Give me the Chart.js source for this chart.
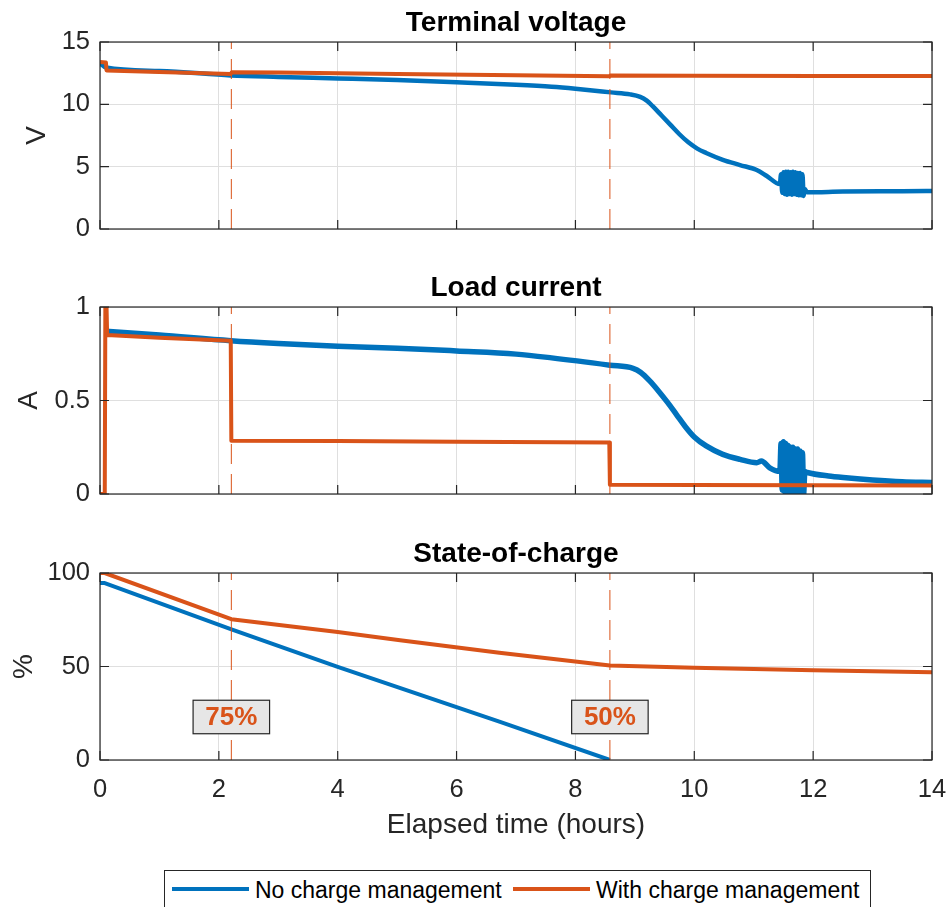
<!DOCTYPE html>
<html><head><meta charset="utf-8">
<script src="https://cdn.jsdelivr.net/npm/chart.js@4"></script>
<style>
html,body{margin:0;padding:0;background:#fff;width:948px;height:907px;overflow:hidden;position:relative;}
canvas{position:absolute;left:0;}
#legend{position:absolute;left:164px;top:870px;width:707px;height:50px;border:1px solid #262626;background:#fff;box-sizing:border-box;font-family:"Liberation Sans",Arial,sans-serif;font-size:23px;color:#000;}
.item{position:absolute;top:5px;white-space:nowrap;line-height:28px;}
.swatch{position:absolute;height:4px;top:16px;width:77px;}
</style></head><body>
<canvas id="c1" width="948" height="266" style="top:0px"></canvas>
<canvas id="c2" width="948" height="266" style="top:265px"></canvas>
<canvas id="c3" width="948" height="320" style="top:531px"></canvas>
<div id="legend">
  <div class="swatch" style="left:7px;background:#0072BD"></div>
  <div class="item" style="left:90px">No charge management</div>
  <div class="swatch" style="left:348px;background:#D95319"></div>
  <div class="item" style="left:431px">With charge management</div>
</div>
<script>
// ---------- data ----------
const seriesNames = ['No charge management', 'With charge management'];
const eventTimes = [2.21, 8.58];
const eventLabels = ['75%', '50%'];
const eventLabelY = [23, 23];

// Terminal voltage (V)
const vNoT = [0, 0.1, 1, 2.2, 3, 4, 5, 6, 7, 7.6, 8, 8.6, 8.92, 9.09, 9.2, 9.3, 9.45, 9.6, 9.75, 9.9, 10.05, 10.2, 10.48, 10.77, 11.05, 11.22, 11.44,
  11.46, 11.48, 11.50, 11.52, 11.54, 11.56, 11.58, 11.60, 11.62, 11.64, 11.66, 11.68, 11.70, 11.72, 11.74, 11.76, 11.78, 11.80, 11.82, 11.84, 11.86,
  11.9, 12.5, 13.5, 14];
const vNoV = [13.3, 12.95, 12.68, 12.32, 12.2, 12.08, 11.95, 11.77, 11.57, 11.41, 11.25, 10.96, 10.8, 10.6, 10.3, 9.85, 9.1, 8.35, 7.6, 6.95, 6.45, 6.1, 5.55, 5.13, 4.73, 4.25, 3.6,
  4.4, 2.9, 4.55, 2.8, 4.6, 2.75, 4.6, 2.8, 4.55, 2.75, 4.6, 2.8, 4.55, 2.75, 4.5, 2.7, 4.5, 2.7, 4.4, 2.65, 3.2,
  2.95, 3.0, 3.03, 3.05];
const vWiT = [0, 0.1, 0.11, 1, 2.2, 2.22, 3, 5, 7, 8.57, 8.59, 10, 12, 14];
const vWiV = [13.4, 13.35, 12.72, 12.6, 12.43, 12.58, 12.55, 12.43, 12.33, 12.25, 12.32, 12.3, 12.28, 12.27];

// Load current (A)
const cNoT = [0.1, 1, 2.2, 3, 4, 5, 6, 7, 7.6, 8.58, 8.97, 9.1, 9.25, 9.4, 9.55, 9.7, 9.85, 10.0, 10.2, 10.48, 10.77, 11.05, 11.13, 11.27, 11.44,
  11.46, 11.48, 11.50, 11.52, 11.54, 11.56, 11.58, 11.60, 11.62, 11.64, 11.66, 11.68, 11.70, 11.72, 11.74, 11.76, 11.78, 11.80, 11.82, 11.84, 11.86,
  11.9, 12.3, 12.6, 13, 13.5, 14];
const cNoV = [0.87, 0.85, 0.82, 0.805, 0.79, 0.78, 0.765, 0.748, 0.728, 0.689, 0.672, 0.65, 0.605, 0.55, 0.49, 0.425, 0.36, 0.305, 0.257, 0.212, 0.185, 0.167, 0.176, 0.14, 0.121,
  0.27, 0.02, 0.28, 0.01, 0.27, 0.0, 0.26, 0.01, 0.25, 0.0, 0.25, 0.01, 0.24, 0.0, 0.24, 0.0, 0.23, 0.0, 0.22, 0.0, 0.12,
  0.115, 0.095, 0.085, 0.075, 0.066, 0.062];
const cWiT = [0, 0.08, 0.09, 0.11, 0.12, 1, 2.2, 2.21, 4, 6, 8.57, 8.58, 10, 12, 14];
const cWiV = [0, 0, 1, 1, 0.85, 0.835, 0.82, 0.285, 0.283, 0.279, 0.275, 0.05, 0.048, 0.047, 0.046];

// State-of-charge (%)
const sNoT = [0, 0.08, 2.2, 4, 6.72, 8.58];
const sNoV = [94.6, 94.6, 70, 49.8, 20.5, 0];
const sWiT = [0, 0.08, 2.21, 4, 5.05, 6.72, 8.58, 10, 12, 14];
const sWiV = [100, 100, 75.3, 68.5, 64, 57.3, 50.5, 49.3, 48, 46.9];

const xTicks = [0, 2, 4, 6, 8, 10, 12, 14];

// ---------- styling ----------
const BLUE = '#0072BD', ORANGE = '#D95319', AX = '#262626', GRID = '#dfdfdf';
const FAM = '"Liberation Sans", Arial, Helvetica, sans-serif';

function pts(t, v) { return t.map((x, i) => ({x: x, y: v[i]})); }

const boxPlugin = {
  id: 'mbox',
  afterDatasetsDraw(chart) {
    const {ctx, chartArea: a, scales: {x, y}} = chart;
    ctx.save();
    ctx.strokeStyle = AX; ctx.lineWidth = 1.2;
    ctx.beginPath();
    const L = 9;
    x.ticks.forEach(t => { const px = x.getPixelForValue(t.value);
      ctx.moveTo(px, a.bottom); ctx.lineTo(px, a.bottom - L);
      ctx.moveTo(px, a.top); ctx.lineTo(px, a.top + L); });
    y.ticks.forEach(t => { const py = y.getPixelForValue(t.value);
      ctx.moveTo(a.left, py); ctx.lineTo(a.left + L, py);
      ctx.moveTo(a.right, py); ctx.lineTo(a.right - L, py); });
    ctx.stroke();
    ctx.strokeRect(a.left, a.top, a.right - a.left, a.bottom - a.top);
    ctx.restore();
  }
};

const labelPlugin = {
  id: 'evlabels',
  afterDraw(chart, args, opts) {
    if (!opts.show) return;
    const {ctx, scales: {x, y}} = chart;
    ctx.save();
    ctx.font = 'bold 26px ' + FAM;
    ctx.textAlign = 'center'; ctx.textBaseline = 'middle';
    eventTimes.forEach((t, i) => {
      const cx = x.getPixelForValue(t), cy = y.getPixelForValue(eventLabelY[i]);
      const w = 76.5, h = 33.5;
      ctx.fillStyle = '#e6e6e6';
      ctx.fillRect(cx - w / 2, cy - h / 2, w, h);
      ctx.strokeStyle = AX; ctx.lineWidth = 1.2;
      ctx.strokeRect(cx - w / 2, cy - h / 2, w, h);
      ctx.fillStyle = ORANGE;
      ctx.fillText(eventLabels[i], cx, cy + 1);
    });
    ctx.restore();
  }
};

function makeChart(id, cfg) {
  const canvas = document.getElementById(id);
  const H = canvas.height;
  const datasets = [];
  eventTimes.forEach(t => datasets.push({
    data: [{x: t, y: cfg.yMin}, {x: t, y: cfg.yMax}],
    borderColor: ORANGE, borderWidth: 1, borderDash: [20, 10], pointRadius: 0, order: 0
  }));
  datasets.push({label: seriesNames[1], data: cfg.orange, borderColor: ORANGE, borderWidth: cfg.wO, pointRadius: 0, order: 1, borderJoinStyle: 'round'});
  datasets.push({label: seriesNames[0], data: cfg.blue, borderColor: BLUE, borderWidth: cfg.wB, pointRadius: 0, order: 2,
    borderJoinStyle: 'round', cubicInterpolationMode: cfg.smooth ? 'monotone' : 'default'});
  return new Chart(canvas, {
    type: 'line',
    data: {datasets},
    options: {
      responsive: false, animation: false, events: [],
      layout: {padding: {left: 0, right: 16, top: 0, bottom: 0}},
      plugins: {
        legend: {display: false}, tooltip: {enabled: false},
        title: {display: true, fullSize: false, text: cfg.title, color: '#000',
          font: {family: FAM, size: 28, weight: 'bold', lineHeight: 1.2},
          padding: {top: 6.9, bottom: 1.5}},
        evlabels: {show: !!cfg.labels}
      },
      scales: {
        x: {
          type: 'linear', min: 0, max: 14,
          afterBuildTicks: s => { s.ticks = xTicks.map(v => ({value: v})); },
          afterFit: s => { s.height = H - 229; s.paddingLeft = 0; s.paddingRight = 0; },
          grid: {color: GRID, lineWidth: 1, drawTicks: false},
          border: {display: false},
          ticks: {display: !!cfg.xLabels, color: AX, padding: 14.7, callback: v => String(v),
            font: {family: FAM, size: 25.5, lineHeight: 1.2}, maxRotation: 0},
          title: {display: !!cfg.xLabels, text: 'Elapsed time (hours)', color: AX,
            font: {family: FAM, size: 28, lineHeight: 1.2}, padding: {top: 0, bottom: 8.9}}
        },
        y: {
          type: 'linear', min: cfg.yMin, max: cfg.yMax,
          afterBuildTicks: s => { s.ticks = cfg.yTicks.map(v => ({value: v})); },
          afterFit: s => { s.width = 100; },
          grid: {color: GRID, lineWidth: 1, drawTicks: false},
          border: {display: false},
          ticks: {color: AX, padding: 10, callback: v => String(v), font: {family: FAM, size: 25.5, lineHeight: 1.2}},
          title: {display: true, text: cfg.yTitle, color: AX,
            font: {family: FAM, size: 28, lineHeight: 1.2}, padding: {top: cfg.yTitlePad, bottom: 0}}
        }
      }
    },
    plugins: [boxPlugin, labelPlugin]
  });
}

makeChart('c1', {title: 'Terminal voltage', yTitle: 'V', yTitlePad: 20.5, yMin: 0, yMax: 15, yTicks: [0, 5, 10, 15],
  blue: pts(vNoT, vNoV), orange: pts(vWiT, vWiV), wB: 4.5, wO: 4, smooth: true});
makeChart('c2', {title: 'Load current', yTitle: 'A', yTitlePad: 12.8, yMin: 0, yMax: 1, yTicks: [0, 0.5, 1],
  blue: pts(cNoT, cNoV), orange: pts(cWiT, cWiV), wB: 5.5, wO: 4, smooth: true});
makeChart('c3', {title: 'State-of-charge', yTitle: '%', yTitlePad: 7.8, yMin: 0, yMax: 100, yTicks: [0, 50, 100],
  blue: pts(sNoT, sNoV), orange: pts(sWiT, sWiV), wB: 4, wO: 4, labels: true, xLabels: true});
</script>
</body></html>
